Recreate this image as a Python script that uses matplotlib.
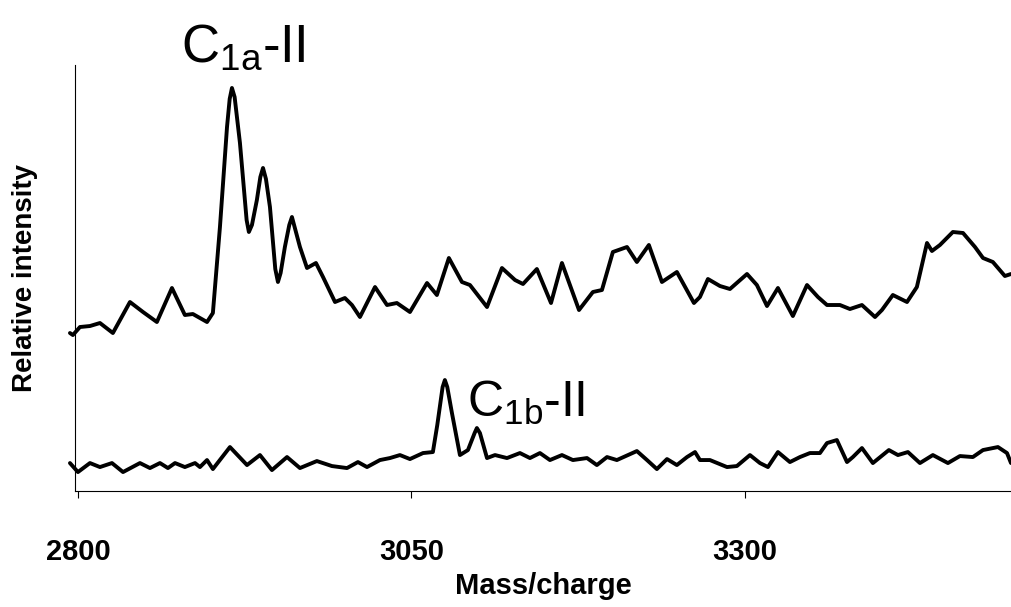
import matplotlib
matplotlib.use('Agg')
import matplotlib.pyplot as plt

plt.rcParams['font.family'] = ['Liberation Sans', 'DejaVu Sans']
plt.rcParams['mathtext.default'] = 'regular'

# upper trace (C1a-II region), m/z vs relative intensity (arb. units)
top_mz = [2794, 2796.2, 2801.5, 2809, 2816.5, 2826.2, 2839, 2848.8, 2859.2, 2870.5,
          2880.2, 2886.2, 2896.8, 2901.2, 2906.5, 2911.8, 2913.8, 2915.5, 2917.5, 2921.5,
          2926.5, 2928.2, 2930.5, 2934.2, 2936.8, 2938.8, 2941, 2944, 2948, 2950,
          2952, 2955.2, 2958.5, 2960.5, 2962.5, 2966.5, 2971.8, 2978.5, 2983.8, 2992.8,
          3000.2, 3005.5, 3011.5, 3022.8, 3031.8, 3039.2, 3049, 3061.8, 3069.2, 3078.2,
          3088, 3094, 3106.8, 3118, 3127.8, 3133.8, 3144.2, 3154.8, 3163, 3175.8,
          3186.2, 3193, 3201.2, 3211.8, 3219.2, 3228.2, 3238, 3249.2, 3262, 3266.5,
          3272.5, 3281.5, 3289, 3301.8, 3309.2, 3316.8, 3325, 3336.2, 3346.8, 3355,
          3361.8, 3371.5, 3379, 3388, 3397.8, 3403, 3411.2, 3421.8, 3429.2, 3436.8,
          3440.5, 3446.5, 3456.2, 3463.8, 3472.8, 3478.8, 3486.2, 3495.2, 3499.8]
top_int = [162, 160, 168, 169, 172, 162, 193, 183, 173, 207,
           180, 181, 173, 182, 268, 368, 396, 407, 398, 352,
           275, 263, 270, 295, 318, 327, 316, 288, 226, 213,
           222, 248, 270, 278, 268, 248, 227, 232, 218, 193,
           197, 190, 178, 208, 190, 192, 183, 212, 200, 237,
           213, 210, 188, 227, 215, 211, 226, 192, 232, 185,
           203, 205, 243, 248, 233, 250, 213, 223, 192, 198,
           216, 209, 206, 221, 210, 189, 207, 179, 210, 198,
           190, 190, 186, 190, 178, 185, 200, 193, 208, 252,
           244, 250, 263, 262, 248, 237, 233, 219, 221]

# lower trace (C1b-II region)
bot_mz = [2794, 2800, 2809, 2816.5, 2825.5, 2833.8, 2846.5, 2854, 2861.5, 2867.5,
          2872.8, 2880.2, 2887.8, 2891.5, 2896.8, 2901.2, 2914, 2926.8, 2936.5, 2945.5,
          2956.8, 2966.5, 2979.2, 2990.5, 3001.8, 3010, 3016.8, 3026.5, 3034, 3041.5,
          3049, 3058.8, 3066.2, 3069.5, 3073.5, 3075.2, 3077, 3080.5, 3086.5, 3092.5,
          3097.5, 3099.2, 3101.5, 3106.8, 3112.8,
          3121.8, 3131.5, 3139, 3146.5, 3154, 3163, 3171.2, 3181.8, 3189.2, 3196.8,
          3204.2, 3219.2, 3226.8, 3234.2, 3241.8, 3249.2, 3256.8, 3262.8, 3266.5, 3274,
          3286.8, 3294.2, 3304, 3311.5, 3317.5, 3325, 3334, 3341.5, 3349, 3356.5,
          3361.8, 3369.2, 3376.8, 3381.2, 3388, 3396.2, 3408.2, 3415, 3422.5, 3431.5,
          3441.2, 3452.5, 3461.5, 3471.2, 3478.8, 3490, 3496.8, 3499.8]
bot_int = [32, 23, 32, 28, 32, 23, 32, 27, 32, 27,
           32, 28, 32, 28, 35, 26, 48, 30, 40, 25,
           38, 27, 34, 29, 27, 33, 28, 35, 37, 40,
           36, 42, 43, 70, 108, 115, 108, 82, 40, 45,
           62, 67, 62, 37, 40,
           37, 42, 37, 42, 35, 40, 35, 37, 30, 38,
           35, 44, 35, 26, 36, 30, 38, 43, 35, 35,
           28, 29, 40, 32, 28, 43, 33, 38, 42, 42,
           52, 55, 33, 38, 47, 32, 45, 40, 43, 32,
           40, 32, 39, 38, 45, 48, 42, 32]

xticks = [2800, 3050, 3300]

fig = plt.figure(figsize=(10.11, 6.07), dpi=100)
ax = fig.add_axes([0.0742, 0.191, 0.9258, 0.702])

ax.plot(top_mz, top_int, color='black', lw=2.8, solid_joinstyle='round',
        solid_capstyle='round', clip_on=False)
ax.plot(bot_mz, bot_int, color='black', lw=2.8, solid_joinstyle='round',
        solid_capstyle='round', clip_on=False)

ax.set_xlim(2797.8, 3499.8)
ax.set_ylim(4, 430)

for s in ['top', 'right']:
    ax.spines[s].set_visible(False)
ax.spines['left'].set_linewidth(0.8)
ax.spines['bottom'].set_linewidth(0.8)
ax.set_yticks([])
ax.set_xticks(xticks)
ax.set_xticklabels([str(t) for t in xticks], fontsize=21, fontweight='bold')
ax.tick_params(axis='x', direction='out', length=5, width=0.8, pad=29)

ax.set_xlabel('Mass/charge', fontsize=21, fontweight='bold')
ax.xaxis.set_label_coords(0.5, -0.19)
ax.set_ylabel('Relative intensity', fontsize=20, fontweight='bold')
ax.yaxis.set_label_coords(-0.0395, 0.5)

ax.text(2877, 433, r'C$_{1a}$-II', fontsize=38, va='baseline', ha='left', clip_on=False)
ax.text(3091.5, 78, r'C$_{1b}$-II', fontsize=36, va='baseline', ha='left')

fig.savefig('out.png', dpi=100, facecolor='white')
